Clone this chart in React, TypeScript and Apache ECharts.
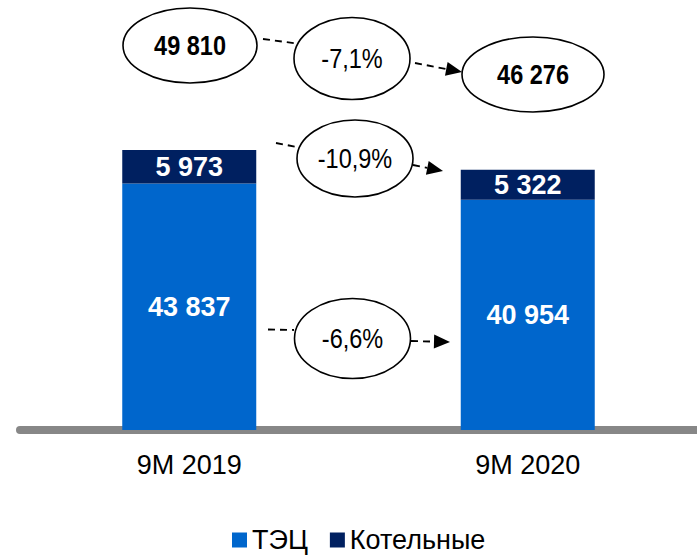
import React, { useEffect, useRef } from 'react';
import * as echarts from 'echarts';

const categories = ['9M 2019', '9M 2020'];
const chpValues = [43837, 40954];
const boilerValues = [5973, 5322];
const totals = [49810, 46276];
const changes = ['-7,1%', '-10,9%', '-6,6%'];
const seriesNames = ['ТЭЦ', 'Котельные'];

const FONT = "'Liberation Sans Narrow', 'Arial Narrow', 'Liberation Sans', Arial, sans-serif";
const fmt = (v: number) => String(v).replace(/\B(?=(\d{3})+(?!\d))/g, ' ');

const ellipse = (cx: number, cy: number, rx: number, ry: number, text: string, bold: boolean) => ({
  type: 'group',
  children: [
    {
      type: 'ellipse',
      shape: { cx, cy, rx, ry },
      style: { fill: '#fff', stroke: '#000', lineWidth: 1.6 },
      z: 10,
    },
    {
      type: 'text',
      x: cx,
      y: cy,
      scaleX: 0.84,
      style: {
        text,
        fill: '#000',
        font: `${bold ? 'bold ' : ''}28px ${FONT}`,
        align: 'center',
        verticalAlign: 'middle',
      },
      z: 11,
    },
  ],
});

const dashed = (x1: number, y1: number, x2: number, y2: number) => ({
  type: 'line',
  shape: { x1, y1, x2, y2 },
  style: { stroke: '#000', lineWidth: 1.8, lineDash: [7, 5] },
  z: 9,
});

const arrow = (x1: number, y1: number, tx: number, ty: number) => {
  const dx = tx - x1;
  const dy = ty - y1;
  const len = Math.sqrt(dx * dx + dy * dy);
  const ux = dx / len;
  const uy = dy / len;
  const L = 16;
  const W = 7;
  const bx = tx - ux * L;
  const by = ty - uy * L;
  return {
    type: 'group',
    children: [
      dashed(x1, y1, bx, by),
      {
        type: 'polygon',
        shape: {
          points: [
            [tx, ty],
            [bx - uy * W, by + ux * W],
            [bx + uy * W, by - ux * W],
          ],
        },
        style: { fill: '#000' },
        z: 9,
      },
    ],
  };
};

export default function App() {
  const ref = useRef<HTMLDivElement>(null);
  useEffect(() => {
    document.body.style.margin = '0';
    const chart = echarts.init(ref.current!, null, { renderer: 'svg' });
    chart.setOption({
      animation: false,
      grid: { left: 20, right: 0, top: 92.7, bottom: 128, containLabel: false },
      legend: {
        data: seriesNames,
        left: 232,
        top: 526,
        padding: 0,
        itemWidth: 15,
        itemHeight: 15,
        itemGap: 22,
        icon: 'rect',
        textStyle: { fontFamily: FONT, fontSize: 27, color: '#000', lineHeight: 28 },
      },
      xAxis: {
        type: 'category',
        data: categories,
        axisTick: { show: false },
        axisLine: { lineStyle: { color: '#878787', width: 8 } },
        axisLabel: { fontFamily: FONT, fontSize: 27, color: '#000', margin: 21, lineHeight: 28 },
      },
      yAxis: {
        type: 'value',
        min: 0,
        max: 60000,
        show: false,
        splitLine: { show: false },
      },
      series: [
        {
          name: seriesNames[0],
          type: 'bar',
          stack: 'total',
          data: chpValues,
          barWidth: 134,
          itemStyle: { color: '#0066CC' },
          label: {
            show: true,
            position: 'inside',
            formatter: (p: any) => fmt(p.value),
            color: '#fff',
            fontFamily: FONT,
            fontWeight: 'bold',
            fontSize: 27,
          },
        },
        {
          name: seriesNames[1],
          type: 'bar',
          stack: 'total',
          data: boilerValues,
          barWidth: 134,
          itemStyle: { color: '#002060' },
          label: {
            show: true,
            position: 'inside',
            formatter: (p: any) => fmt(p.value),
            color: '#fff',
            fontFamily: FONT,
            fontWeight: 'bold',
            fontSize: 27,
          },
        },
      ],
      graphic: [
        dashed(263, 39, 297, 43.5),
        arrow(415, 63, 462, 72),
        dashed(276, 143, 297, 147),
        arrow(413, 165, 443, 171),
        dashed(268, 329.5, 294, 330),
        arrow(411, 341, 450, 342),
        ellipse(190, 45.5, 67, 37.5, fmt(totals[0]), true),
        ellipse(352, 58.5, 58, 41, changes[0], false),
        ellipse(533, 74.5, 71, 37.5, fmt(totals[1]), true),
        ellipse(355, 158.5, 58, 38.5, changes[1], false),
        ellipse(352.5, 338.5, 58, 40, changes[2], false),
      ],
    });
    return () => chart.dispose();
  }, []);
  return <div ref={ref} style={{ width: 697, height: 558 }} />;
}
